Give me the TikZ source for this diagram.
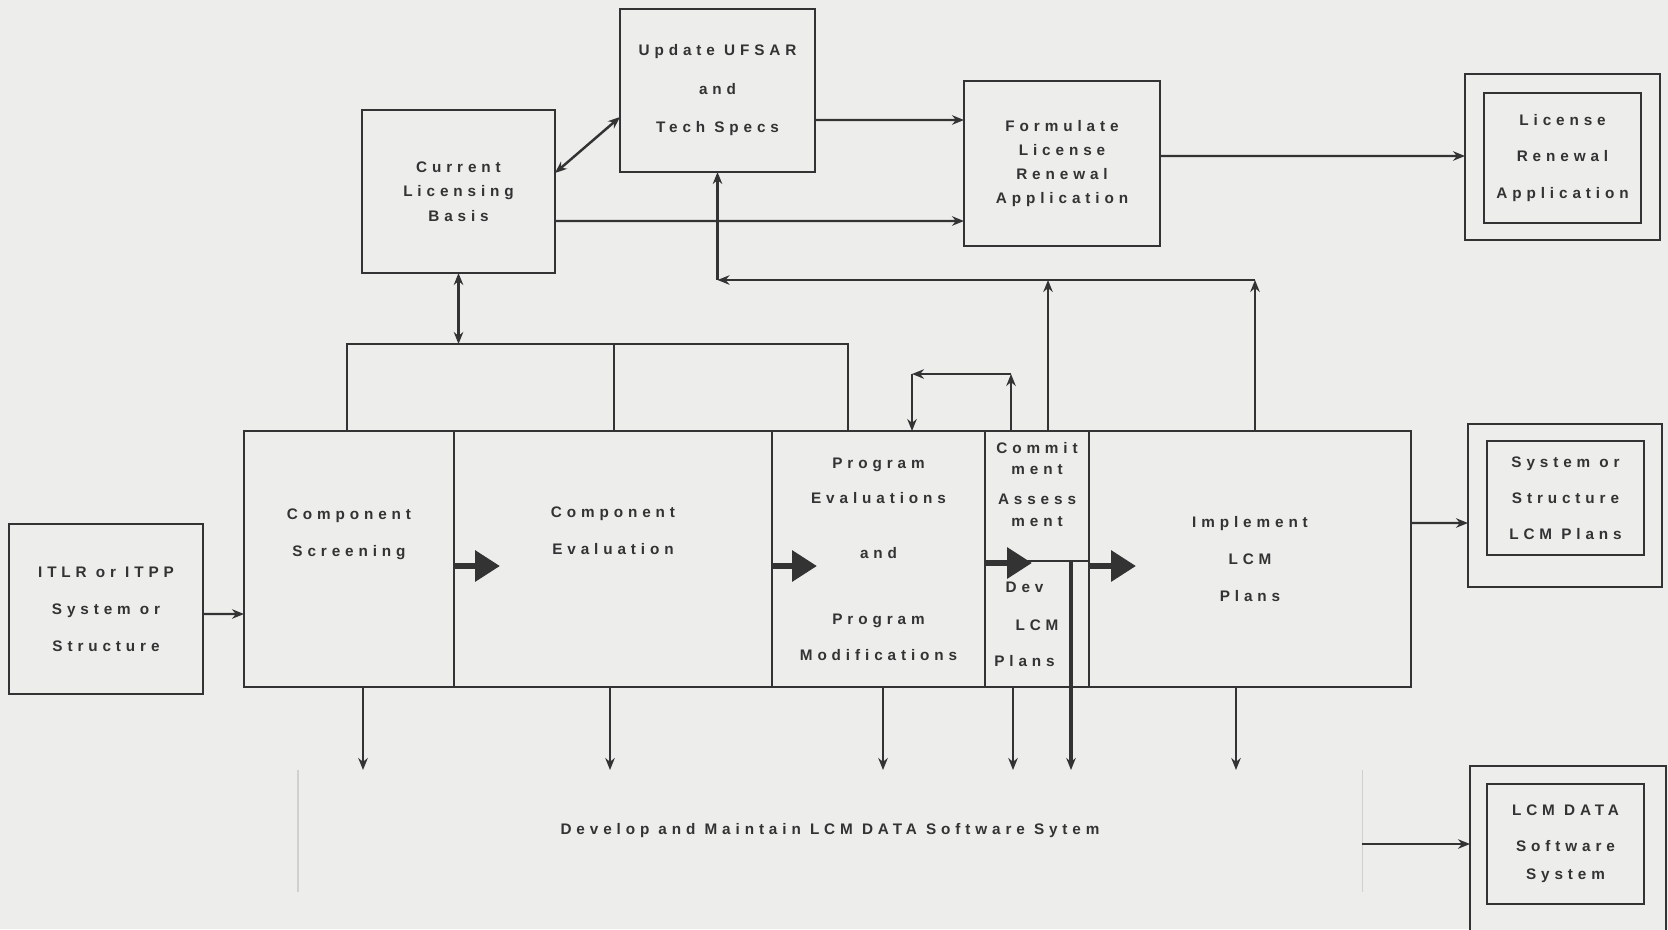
\documentclass[tikz,border=0pt]{standalone}
\usepackage{fontspec}
\newfontfamily\plotfont[LetterSpace=32]{Liberation Sans}
\usepackage{tikz}
\usetikzlibrary{positioning,arrows.meta}
\definecolor{paper}{HTML}{EDEDEB}
\definecolor{ink}{HTML}{333333}
\definecolor{faintline}{HTML}{D0D0CE}
\newcommand{\dropby}[1]{\rule[-#1]{0pt}{0pt}}
\tikzset{
  box/.style={draw=ink, line width=0.8pt, fill=paper, text=ink, align=center, inner sep=0pt, outer sep=0pt, font=\plotfont\bfseries\fontsize{8.7}{12}\selectfont},
  outerbox/.style={box},
  cell/.style={box, minimum height=51.2mm},
  conn/.style={draw=ink, line width=1.4pt},
  arrow/.style={conn, -{Stealth[length=2.4mm,width=1.9mm]}},
  dblarrow/.style={conn, {Stealth[length=2.4mm,width=1.9mm]}-{Stealth[length=2.4mm,width=1.9mm]}},
  fat/.style={draw=ink, line width=3.6pt, -{Triangle[length=5mm,width=6mm]}},
  faint/.style={draw=faintline, line width=0.6pt}
}

\begin{document}
\begin{tikzpicture}[x=0.2mm, y=-0.2mm]
  \useasboundingbox[fill=paper] (0,0) rectangle (1668,929);
  \clip (0,0) rectangle (1668,929);

  % licensing row
  \node[box, minimum width=38.6mm, minimum height=32.6mm] (clb) at (458.5,191.5) {Current\\[1.9pt]Licensing\\[1.9pt]Basis};
  \node[box, minimum width=39mm, minimum height=32.6mm] (ufsar) at (717.5,90.5) {Update UFSAR\\[9.9pt]and\\[9.9pt]Tech Specs};
  \node[box, minimum width=39.2mm, minimum height=33mm] (form) at (1062,163.5) {Formulate\\[1.8pt]License\\[1.8pt]Renewal\\[1.8pt]Application};
  \node[outerbox, minimum width=39mm, minimum height=33.2mm] (lraframe) at (1562.5,157) {};
  \node[box, minimum width=31.4mm, minimum height=26mm] (lra) at (1562.5,158) {License\\[9pt]Renewal\\[9pt]Application};

  % main process strip
  \node[box, minimum width=38.8mm, minimum height=34mm] (itlr) at (106,609) {ITLR or ITPP\\[9pt]System or\\[9pt]Structure};
  \node[cell, minimum width=42mm] (scr) at (349,559) {Component\\[9pt]Screening\dropby{10.4mm}};
  \node[cell, minimum width=63.6mm, right=0pt of scr] (eva) {Component\\[9pt]Evaluation\dropby{11.2mm}};
  \node[cell, minimum width=42.6mm, right=0pt of eva] (pev) {Program\\[8pt]Evaluations\\[19.3pt]and\\[25.6pt]Program\\[8.5pt]Modifications};
  \node[box, minimum width=20.8mm, minimum height=26mm, anchor=north west] (cmt) at (pev.north east) {Commit\\ment\\[5pt]Assess\\[0.5pt]ment\dropby{4.6mm}};
  \node[box, minimum width=20.8mm, minimum height=25.2mm, below=0pt of cmt] (dev) {Dev\hspace*{5mm}\\[9.6pt]LCM\hspace*{5mm}\\[8.5pt]Plans\hspace*{5mm}};
  \node[cell, minimum width=64.4mm, anchor=north west] (imp) at (cmt.north east) {Implement\\[9pt]LCM\\[9pt]Plans};
  \node[outerbox, minimum width=38.8mm, minimum height=32.6mm] (sysframe) at (1565,505.5) {};
  \node[box, minimum width=31.4mm, minimum height=22.8mm] (sys) at (1565.5,498) {System or\\[8.5pt]Structure\\[8.5pt]LCM Plans};

  % data system
  \node[box, draw=none, minimum width=212.8mm, minimum height=24.4mm] (dms) at (830,831) {Develop and Maintain LCM DATA Software Sytem};
  \draw[faint] (dms.north west) -- (dms.south west);
  \draw[faint] (dms.north east) -- (dms.south east);
  \node[outerbox, minimum width=39.2mm, minimum height=35.8mm] (ldframe) at (1568,855.5) {};
  \node[box, minimum width=31.4mm, minimum height=24mm] (ld) at (1565.5,844) {LCM DATA\\[8.5pt]Software\\[4pt]System};

  % top connectors
  \draw[dblarrow] ([yshift=3.7mm]clb.east) -- ([yshift=-5.3mm]ufsar.west);
  \draw[arrow] ([yshift=-5.9mm]ufsar.east) -- ([yshift=8.7mm]form.west);
  \draw[arrow] ([yshift=-5.9mm]clb.east) -- ([yshift=-11.5mm]form.west);
  \draw[arrow] ([yshift=1.5mm]form.east) -- ([yshift=0.2mm]lraframe.west);

  % bar under the licensing basis
  \coordinate (barL) at (347,344);
  \coordinate (barM) at (614,344);
  \coordinate (barR) at (848,344);
  \draw[conn] (scr.north -| barL) -- (barL) -- (barR) -- (pev.north -| barR);
  \draw[conn] (eva.north -| barM) -- (barM);
  \draw[dblarrow] (clb.south) -- (clb.south |- barL);

  % feedback to UFSAR
  \coordinate (fbR) at (1255,280);
  \coordinate (fbM) at (1048,280);
  \coordinate (fbL) at (ufsar.south |- fbR);
  \draw[arrow] (imp.north -| fbR) -- (fbR);
  \draw[arrow] (cmt.north -| fbM) -- (fbM);
  \draw[arrow] (fbR) -- (fbL);
  \draw[arrow] (fbL) -- (ufsar.south);

  % loop back to program evaluations
  \coordinate (lpR) at (1011,374);
  \coordinate (lpL) at (912,374);
  \draw[arrow] (cmt.north -| lpR) -- (lpR);
  \draw[arrow] (lpR) -- (lpL);
  \draw[arrow] (lpL) -- (pev.north -| lpL);

  % flow through the strip
  \draw[arrow] ([yshift=-1mm]itlr.east) -- ([yshift=-11mm]scr.west);
  \foreach \nd/\x/\y [count=\i] in {eva/500/566, pev/817/566, cmt/1032/563, imp/1136/566} {
    \coordinate (tip\i) at (\x,\y);
    \draw[fat] (\nd.west |- tip\i) -- (tip\i);
  }
  \draw[arrow] ([yshift=7.2mm]imp.east) -- ([yshift=-3.5mm]sysframe.west);

  % outputs to the data system
  \foreach \nd/\x [count=\i] in {scr/363, eva/610, pev/883, dev/1013, imp/1236} {
    \coordinate (out\i) at (\x,768);
    \draw[arrow] (\nd.south -| out\i) -- (out\i |- dms.north);
  }
  \coordinate (out6) at (1071,768);
  \draw[arrow, line width=2pt] (dev.north -| out6) -- (out6 |- dms.north);
  \draw[arrow] (dms.east |- ld.west) -- (ldframe.west |- ld.west);
\end{tikzpicture}
\end{document}
